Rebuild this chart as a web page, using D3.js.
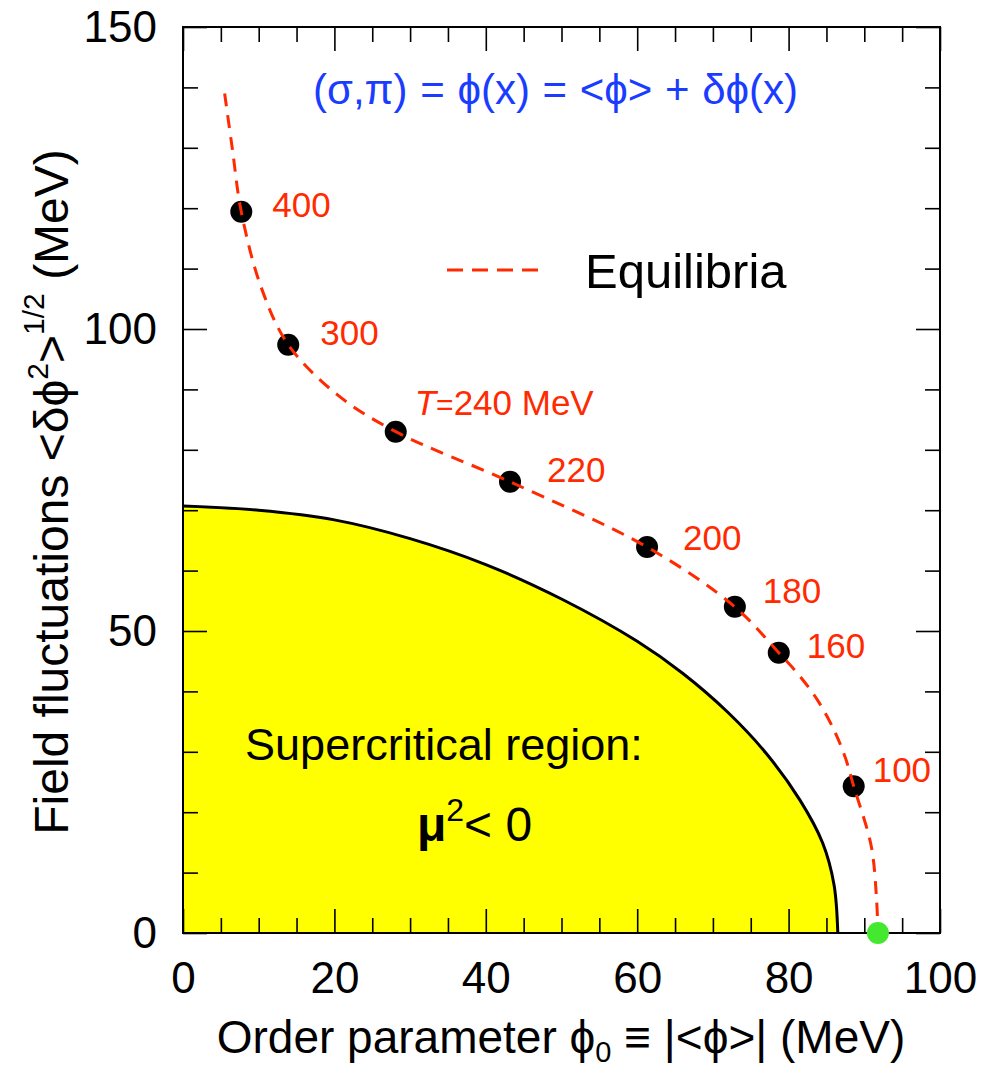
<!DOCTYPE html>
<html>
<head>
<meta charset="utf-8">
<script src="https://cdn.jsdelivr.net/npm/d3@7"></script>
<style>
  body { margin: 0; background: #fff; }
  svg text { font-family: "Liberation Sans", Arial, sans-serif; }
</style>
</head>
<body>
<div id="chart"></div>
<script>
// Equilibrium points (temperature labels, order parameter, fluctuations)
const tempLabels = ["400", "300", "240", "220", "200", "180", "160", "100"];
const phi0 = [7.7, 13.9, 28.1, 43.2, 61.3, 72.9, 78.7, 88.6];
const fluct = [119.4, 97.4, 83.0, 74.7, 63.9, 54.0, 46.4, 24.3];

// Dashed "Equilibria" curve
const eqPhi = [5.5, 6.5, 7.7, 10.3, 13.9, 20.5, 28.1, 43.2, 61.3, 72.9, 78.7, 81.3, 83.8, 86.0, 87.5, 88.6, 90.9, 91.6, 91.8];
const eqFluct = [139, 130, 119.4, 107, 97.4, 89, 83.0, 74.7, 63.9, 54.0, 46.4, 42.8, 38.6, 33.6, 29.0, 24.3, 14.5, 6, 0];

// Boundary of the supercritical region
const edgePhi = [0, 10, 20, 30, 40, 50, 60, 66, 72, 77, 81.5, 84.5, 86.0, 86.5];
const edgeFluct = [70.7, 70.0, 68.4, 65.3, 61.0, 55.3, 48.3, 43.0, 36.5, 29.8, 22.0, 14.9, 8.0, 0];

// Critical point at T = Tc
const critPhi = [91.8];
const critFluct = [0];

const xMajor = [0, 20, 40, 60, 80, 100];
const yMajor = [0, 50, 100, 150];

const width = 982;
const height = 1068;
const margin = { top: 27, right: 42, bottom: 135, left: 183 };

const red = "#ff2a00";
const blue = "#1a3cff";

const svg = d3.select("#chart").append("svg")
    .attr("width", width)
    .attr("height", height);

const x = d3.scaleLinear().domain([0, 100]).range([margin.left, width - margin.right]);
const y = d3.scaleLinear().domain([0, 150]).range([height - margin.bottom, margin.top]);

// yellow supercritical region
const edge = edgePhi.map((p, i) => [p, edgeFluct[i]]);

svg.append("path")
    .datum(edge)
    .attr("fill", "#ffff00")
    .attr("d", d3.area()
        .x(d => x(d[0]))
        .y0(y(0))
        .y1(d => y(d[1]))
        .curve(d3.curveCatmullRom));

svg.append("path")
    .datum(edge)
    .attr("fill", "none")
    .attr("stroke", "#000")
    .attr("stroke-width", 3)
    .attr("d", d3.line()
        .x(d => x(d[0]))
        .y(d => y(d[1]))
        .curve(d3.curveCatmullRom));

// axes: inward ticks on all four sides
function styleAxis(g) {
    g.select(".domain").remove();
    g.selectAll(".tick line").attr("stroke", "#000").attr("stroke-width", 1.6);
    g.selectAll(".tick text")
        .attr("fill", "#000")
        .style("font-size", "44px")
        .style("font-family", "'Liberation Sans', Arial, sans-serif");
}

const xMinor = d3.range(0, 101, 5).filter(v => !xMajor.includes(v));
const yMinor = d3.range(0, 151, 10).filter(v => !yMajor.includes(v));

svg.append("g")
    .attr("transform", `translate(0,${y(0)})`)
    .call(d3.axisBottom(x).tickValues(xMajor).tickSize(-24).tickPadding(29).tickFormat(d3.format("d")))
    .call(styleAxis);
svg.append("g")
    .attr("transform", `translate(0,${y(0)})`)
    .call(d3.axisBottom(x).tickValues(xMinor).tickSize(-15).tickFormat(""))
    .call(styleAxis);
svg.append("g")
    .attr("transform", `translate(0,${y(150)})`)
    .call(d3.axisTop(x).tickValues(xMajor).tickSize(-24).tickFormat(""))
    .call(styleAxis);
svg.append("g")
    .attr("transform", `translate(0,${y(150)})`)
    .call(d3.axisTop(x).tickValues(xMinor).tickSize(-15).tickFormat(""))
    .call(styleAxis);

svg.append("g")
    .attr("transform", `translate(${x(0)},0)`)
    .call(d3.axisLeft(y).tickValues(yMajor).tickSize(-24).tickPadding(26).tickFormat(d3.format("d")))
    .call(styleAxis);
svg.append("g")
    .attr("transform", `translate(${x(0)},0)`)
    .call(d3.axisLeft(y).tickValues(yMinor).tickSize(-15).tickFormat(""))
    .call(styleAxis);
svg.append("g")
    .attr("transform", `translate(${x(100)},0)`)
    .call(d3.axisRight(y).tickValues(yMajor).tickSize(-24).tickFormat(""))
    .call(styleAxis);
svg.append("g")
    .attr("transform", `translate(${x(100)},0)`)
    .call(d3.axisRight(y).tickValues(yMinor).tickSize(-15).tickFormat(""))
    .call(styleAxis);

// frame
svg.append("rect")
    .attr("x", x(0))
    .attr("y", y(150))
    .attr("width", x(100) - x(0))
    .attr("height", y(0) - y(150))
    .attr("fill", "none")
    .attr("stroke", "#000")
    .attr("stroke-width", 2);

// equilibrium points
svg.selectAll(".eq-dot")
    .data(phi0)
    .join("circle")
    .attr("class", "eq-dot")
    .attr("cx", d => x(d))
    .attr("cy", (d, i) => y(fluct[i]))
    .attr("r", 11)
    .attr("fill", "#000");

// dashed equilibria curve
const eqLine = d3.line()
    .x(d => x(d[0]))
    .y(d => y(d[1]))
    .curve(d3.curveCatmullRom.alpha(0.5));

svg.append("path")
    .datum(eqPhi.map((p, i) => [p, eqFluct[i]]))
    .attr("fill", "none")
    .attr("stroke", red)
    .attr("stroke-width", 3)
    .attr("stroke-dasharray", "13,9")
    .attr("d", eqLine);

svg.selectAll(".crit")
    .data(critPhi)
    .join("circle")
    .attr("class", "crit")
    .attr("cx", d => x(d))
    .attr("cy", (d, i) => y(critFluct[i]))
    .attr("r", 11)
    .attr("fill", "#44e82e");

// temperature labels next to the points (pixel nudges)
const labelNudge = [[31, 5], [32, 0], [19, -17], [37, 0], [36, 3], [28, -4], [28, 5], [19, -4]];

const labels = svg.selectAll(".tlabel")
    .data(tempLabels)
    .join("text")
    .attr("class", "tlabel")
    .attr("x", (d, i) => x(phi0[i]) + labelNudge[i][0])
    .attr("y", (d, i) => y(fluct[i]) + labelNudge[i][1])
    .attr("fill", red)
    .style("font-size", "35px");

labels.each(function (d, i) {
    const t = d3.select(this);
    if (d === "240") {
        t.append("tspan").style("font-style", "italic").text("T");
        t.append("tspan").style("font-size", "30px").text("=");
        t.append("tspan").text("240 MeV");
    } else {
        t.text(d);
    }
});

// formula at the top
svg.append("text")
    .attr("x", 313)
    .attr("y", 104)
    .attr("fill", blue)
    .style("font-size", "42px")
    .style("word-spacing", "1px")
    .text("(σ,π) = ϕ(x) = <ϕ> + δϕ(x)");

// legend
svg.append("line")
    .attr("x1", 447)
    .attr("x2", 540)
    .attr("y1", 270)
    .attr("y2", 270)
    .attr("stroke", red)
    .attr("stroke-width", 3)
    .attr("stroke-dasharray", "16,9");

svg.append("text")
    .attr("x", 585)
    .attr("y", 288)
    .attr("fill", "#000")
    .style("font-size", "49px")
    .text("Equilibria");

// region annotation
svg.append("text")
    .attr("x", x(8.2))
    .attr("y", y(28.7))
    .attr("fill", "#000")
    .style("font-size", "45px")
    .text("Supercritical region:");

const mu = svg.append("text")
    .attr("x", x(30.9))
    .attr("y", y(15.2))
    .attr("fill", "#000")
    .style("font-size", "48px");
mu.append("tspan").style("font-weight", "bold").text("μ");
mu.append("tspan").attr("dy", -20).style("font-size", "32px").text("2");
mu.append("tspan").attr("dy", 20).text("< 0");

// axis titles
const xTitle = svg.append("text")
    .attr("x", 561)
    .attr("y", 1053)
    .attr("text-anchor", "middle")
    .attr("fill", "#000")
    .style("font-size", "46px");
xTitle.append("tspan").text("Order parameter ϕ");
xTitle.append("tspan").attr("dy", 9).style("font-size", "29px").text("0");
xTitle.append("tspan").attr("dy", -9).text(" ≡ |<ϕ>| (MeV)");

const yTitle = svg.append("text")
    .attr("transform", `translate(68,${492}) rotate(-90)`)
    .attr("text-anchor", "middle")
    .attr("fill", "#000")
    .style("font-size", "48px");
yTitle.append("tspan").text("Field fluctuations <δϕ");
yTitle.append("tspan").attr("dy", -20).style("font-size", "30px").text("2");
yTitle.append("tspan").attr("dy", 20).text(">");
yTitle.append("tspan").attr("dy", -24).style("font-size", "30px").text("1/2");
yTitle.append("tspan").attr("dy", 24).text(" (MeV)");
</script>
</body>
</html>
